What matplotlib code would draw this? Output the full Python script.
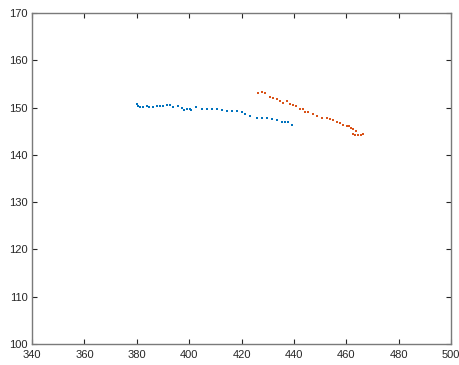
import numpy as np
import matplotlib
matplotlib.use("Agg")
import matplotlib.pyplot as plt

plt.rcParams['font.family'] = ['Liberation Sans', 'DejaVu Sans']

# track 1 (blue)
x1 = [380.0, 380.5, 381.2, 382.5, 383.8, 384.5, 386.3, 387.6, 388.9, 390.1,
      391.4, 392.7, 393.9, 395.8, 397.1, 398.0, 399.0, 400.3, 400.9, 402.8,
      404.8, 406.7, 408.6, 410.7, 412.4, 414.3, 416.2, 418.1, 420.0, 421.3,
      423.2, 425.8, 427.7, 429.6, 431.5, 433.4, 435.3, 436.6, 437.8, 439.1]
y1 = [150.7, 150.3, 150.1, 150.2, 150.3, 150.2, 150.2, 150.3, 150.4, 150.3,
      150.5, 150.5, 150.2, 150.4, 150.0, 149.5, 149.6, 149.6, 149.5, 150.1,
      149.8, 149.6, 149.6, 149.7, 149.5, 149.3, 149.2, 149.2, 149.1, 148.6,
      148.3, 147.8, 147.9, 147.7, 147.5, 147.3, 146.9, 147.0, 147.0, 146.4]

# track 2 (orange)
x2 = [426.4, 427.7, 428.9, 430.8, 432.1, 433.4, 434.7, 435.7, 437.2, 438.5,
      439.7, 441.0, 442.3, 443.6, 444.2, 445.5, 447.4, 448.7, 450.6, 452.5,
      453.7, 455.0, 456.3, 457.6, 458.8, 460.1, 461.1, 462.0, 462.6, 463.9,
      462.4, 463.3, 464.6, 465.8, 466.5]
y2 = [153.0, 153.2, 153.0, 152.3, 152.1, 151.8, 151.4, 150.9, 151.3, 150.8,
      150.5, 150.3, 149.8, 149.8, 149.1, 149.1, 148.7, 148.2, 147.9, 147.7,
      147.5, 147.3, 147.0, 146.7, 146.4, 146.2, 146.2, 145.7, 145.4, 145.0,
      144.5, 144.2, 144.2, 144.3, 144.5]

fig = plt.figure(figsize=(4.6, 3.65), dpi=100)
ax = fig.add_axes([32 / 460, 21 / 365, 419 / 460, 331 / 365])

ax.plot(x1, y1, 's', color='#0072BD', ms=1.8, mew=0)
ax.plot(x2, y2, 's', color='#D95319', ms=1.8, mew=0)

ax.set_xlim(340, 500)
ax.set_ylim(100, 170)
ax.set_xticks(np.arange(340, 501, 20))
ax.set_yticks(np.arange(100, 171, 10))

for s in ax.spines.values():
    s.set_color('#7a7a7a')
    s.set_linewidth(1.0)
ax.tick_params(direction='in', length=3.5, width=0.8, color='#262626',
               labelsize=8, labelcolor='#262626',
               top=True, right=True)
ax.tick_params(axis='x', pad=4)
ax.tick_params(axis='y', pad=3)

fig.savefig('out.png', dpi=100)
